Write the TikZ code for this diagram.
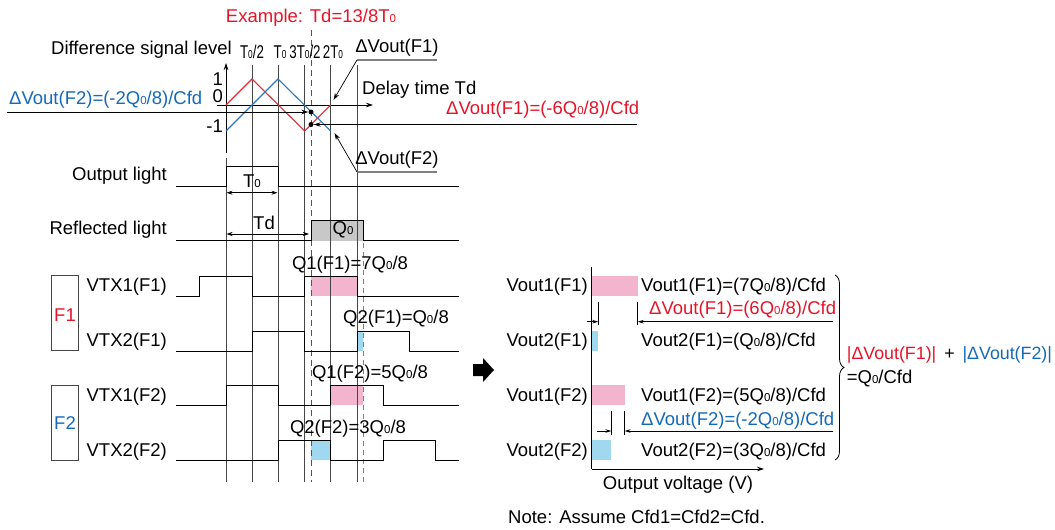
\documentclass[tikz,border=0pt]{standalone}
\usepackage{fontspec}
\setmainfont{Liberation Sans}
\usetikzlibrary{arrows.meta,decorations.pathreplacing}
\definecolor{myred}{RGB}{230,20,40}
\definecolor{myblue}{RGB}{20,105,185}
\definecolor{redline}{RGB}{232,40,50}
\definecolor{blueline}{RGB}{40,120,195}
\definecolor{pinkf}{RGB}{243,180,206}
\definecolor{bluef}{RGB}{160,216,239}
\definecolor{grayf}{RGB}{200,200,200}
\definecolor{linegray}{RGB}{70,70,70}
\newcommand{\zr}{{\fontsize{11.5}{11.5}\selectfont 0}}
\begin{document}
\begin{tikzpicture}[x=1pt,y=-1pt,
  txt/.style={font=\fontsize{18.5}{21}\selectfont, inner sep=0pt},
  tick/.style={font=\fontsize{18.5}{21}\selectfont, inner sep=0pt},
  sig/.style={line width=0.9pt, black},
  vline/.style={line width=0.85pt, linegray},
  arr/.style={-{Stealth[length=7pt,width=4.5pt]}, line width=0.7pt},
  dimarr/.style={-{Stealth[length=6pt,width=3.5pt]}, line width=0.7pt},
  uline/.style={line width=1.3pt, gray},
  dot/.style={circle, fill=black, inner sep=0pt, minimum size=5pt},
 ]
\useasboundingbox (0,0) rectangle (1055,530);

% ---------- fills ----------
\fill[grayf] (311,220.7) rectangle (363,240.7);
\fill[pinkf] (311,276) rectangle (357,296);
\fill[bluef] (357,331) rectangle (363,351);
\fill[pinkf] (330.7,385) rectangle (363,405);
\fill[bluef] (311,440) rectangle (330.7,460);

% ---------- vertical guide lines ----------
\foreach \x in {252,278,304.7,330.7,357} \draw[vline] (\x,65) -- (\x,482);
\draw[vline] (226,158) -- (226,482);
\draw[myred, line width=0.9pt, dash pattern=on 6pt off 4pt] (311,30) -- (311,482);
\draw[gray, line width=1pt, dash pattern=on 5pt off 4pt] (363,243) -- (363,482);

% ---------- top plot ----------
\node[txt, myred] (ex) at (311,18) {Example: Td=13/8T\zr};
\node[txt, anchor=east] (dsl) at (232,50) {Difference signal level};
\node[tick] (t1) at (252,52) {\scalebox{0.72}[1]{T\zr/2}};
\node[tick] (t2) at (280,52) {\scalebox{0.72}[1]{T\zr}};
\node[tick] (t3) at (305,52) {\scalebox{0.72}[1]{3T\zr/2}};
\node[tick] (t4) at (333,52) {\scalebox{0.72}[1]{2T\zr}};
\node[txt, anchor=east] (l1) at (223,79) {1};
\node[txt, anchor=east] (l0) at (223,96) {0};
\node[txt, anchor=east] (lm) at (223,126) {-1};
\coordinate (ybot) at (226,153);
\coordinate (ytop) at (226,63);
\coordinate (xl) at (217,105);
\coordinate (xr) at (373,105);
\draw[arr] (ybot) -- (ytop);
\draw[arr] (xl) -- (xr);
\node[txt, anchor=west] (dtd) at (362,90) {Delay time Td};
\draw[redline, line width=1.1pt] (226,105) -- (252,79) -- (304.7,131) -- (330.7,105);
\draw[blueline, line width=1.1pt] (226,131) -- (278,79) -- (330.7,131);

\node[txt, myblue, anchor=west] (dv2) at (9,100) {ΔVout(F2)=(-2Q\zr/8)/Cfd};
\node[txt, myred, anchor=west] (dv1) at (446,110) {ΔVout(F1)=(-6Q\zr/8)/Cfd};
\node[dot] (p2) at (311,112) {};
\node[dot] (p1) at (311,124.5) {};
\coordinate (l2s) at (7,112);
\coordinate (l1s) at (637,124.5);
\draw[arr] (l2s) -- (p2.west);
\draw[arr] (l1s) -- (p1.east);

\node[txt] (lf1) at (397,48) {ΔVout(F1)};
\coordinate (u1a) at (357,60);
\coordinate (u1b) at (437,60);
\draw[uline] (u1a) -- (u1b);
\draw[arr] (u1a) -- (333.5,100);
\node[txt] (lf2) at (397,160) {ΔVout(F2)};
\coordinate (u2a) at (357,172);
\coordinate (u2b) at (437,172);
\draw[uline] (u2a) -- (u2b);
\draw[arr] (u2a) -- (334.5,133);

% ---------- timing rows ----------
\node[txt, anchor=east] (ol) at (167,176) {Output light};
\draw[sig] (176,186) -| (226,166) -| (278,186) -- (459,186);
\draw[{Stealth[length=6pt,width=4pt]}-{Stealth[length=6pt,width=4pt]}, line width=0.7pt] (226.5,192.7) -- (277.5,192.7);
\node[txt] (t0) at (252,181) {T\zr};

\node[txt, anchor=east] (rl) at (167,230) {Reflected light};
\draw[sig] (176,240.7) -| (311,220.7) -| (363,240.7) -- (459,240.7);
\node[txt] (q0) at (343,230) {Q\zr};
\draw[{Stealth[length=6pt,width=4pt]}-{Stealth[length=6pt,width=4pt]}, line width=0.7pt] (226.5,234) -- (309,234);
\node[txt] (td) at (264,223) {Td};

\node[txt] (q1f1) at (350,265) {Q1(F1)=7Q\zr/8};
\node[txt, anchor=east] (v11) at (167,286.7) {VTX1(F1)};
\draw[sig] (176,296) -| (199.3,276) -| (252,296) -| (304.7,276) -| (357,296) -- (459,296);

\node[txt] (q2f1) at (396,319) {Q2(F1)=Q\zr/8};
\node[txt, anchor=east] (v21) at (167,341.7) {VTX2(F1)};
\draw[sig] (176,351) -| (252,331) -| (304.7,351) -| (357,331) -| (409.7,351) -- (459,351);

\node[txt] (q1f2) at (370,374) {Q1(F2)=5Q\zr/8};
\node[txt, anchor=east] (v12) at (167,396.7) {VTX1(F2)};
\draw[sig] (176,405) -| (226,385) -| (278,405) -| (330.7,385) -| (383,405) -- (459,405);

\node[txt] (q2f2) at (348,429) {Q2(F2)=3Q\zr/8};
\node[txt, anchor=east] (v22) at (167,451.7) {VTX2(F2)};
\draw[sig] (176,460) -| (278,440) -| (330.7,460) -| (383,440) -| (435.7,460) -- (459,460);

\draw[line width=0.8pt, linegray] (51.7,275.7) rectangle (78.3,350.7);
\node[txt, myred] (f1) at (65,315) {F1};
\draw[line width=0.8pt, linegray] (51.7,385) rectangle (78.3,460);
\node[txt, myblue] (f2) at (65,423) {F2};

% ---------- big arrow ----------
\fill (473,364) -- (483,364) -- (483,358) -- (494,370) -- (483,382) -- (483,376) -- (473,376) -- cycle;

% ---------- right panel ----------
\fill[pinkf] (591.7,276) rectangle (637.7,296);
\fill[bluef] (591.7,331) rectangle (598.3,351);
\fill[pinkf] (591.7,385) rectangle (624.6,405);
\fill[bluef] (591.7,440) rectangle (611.4,460);
\coordinate (ax0) at (591.7,469);
\coordinate (axt) at (591.7,266.7);
\coordinate (axr) at (764,469);
\draw[line width=0.9pt] (axt) -- (ax0);
\draw[arr] (ax0) -- (axr);

\node[txt, anchor=east] (o11) at (588,286.7) {Vout1(F1)};
\node[txt, anchor=east] (o21) at (588,341.7) {Vout2(F1)};
\node[txt, anchor=east] (o12) at (588,396.7) {Vout1(F2)};
\node[txt, anchor=east] (o22) at (588,451.7) {Vout2(F2)};

\node[txt, anchor=west] (e11) at (641,286.7) {Vout1(F1)=(7Q\zr/8)/Cfd};
\node[txt, anchor=west, myred] (d1) at (649,310) {ΔVout(F1)=(6Q\zr/8)/Cfd};
\node[txt, anchor=west] (e21) at (641,341.7) {Vout2(F1)=(Q\zr/8)/Cfd};
\node[txt, anchor=west] (e12) at (641,396.7) {Vout1(F2)=(5Q\zr/8)/Cfd};
\node[txt, anchor=west, myblue] (d2) at (641,420.7) {ΔVout(F2)=(-2Q\zr/8)/Cfd};
\node[txt, anchor=west] (e22) at (641,451.7) {Vout2(F2)=(3Q\zr/8)/Cfd};

% dimension F1
\draw[line width=0.7pt] (598.3,301.7) -- (598.3,325);
\draw[line width=0.7pt] (637.7,301.7) -- (637.7,325);
\draw[dimarr] (586.7,321.7) -- (598.3,321.7);
\draw[dimarr] (833.3,321.7) -- (637.7,321.7);
% dimension F2
\draw[line width=0.7pt] (611.4,410.7) -- (611.4,435);
\draw[line width=0.7pt] (624.6,410.7) -- (624.6,435);
\draw[dimarr] (597,431) -- (611.4,431);
\draw[dimarr] (833.3,431) -- (624.6,431);

% brace
\draw[line width=0.8pt, decorate, decoration={brace, amplitude=9pt}] (835,275) -- (835,460);
\node[txt, anchor=west, font=\fontsize{17.8}{21}\selectfont] (sum) at (846.7,355) {\textcolor{myred}{|ΔVout(F1)|}\hspace{3pt} + \hspace{3pt}\textcolor{myblue}{|ΔVout(F2)|}};
\node[txt, anchor=west] (eq) at (846.7,378.3) {=Q\zr/Cfd};

\node[txt] (ov) at (678,485) {Output voltage (V)};
\node[txt, anchor=west] (note) at (508,517) {Note: Assume Cfd1=Cfd2=Cfd.};
\end{tikzpicture}
\end{document}
